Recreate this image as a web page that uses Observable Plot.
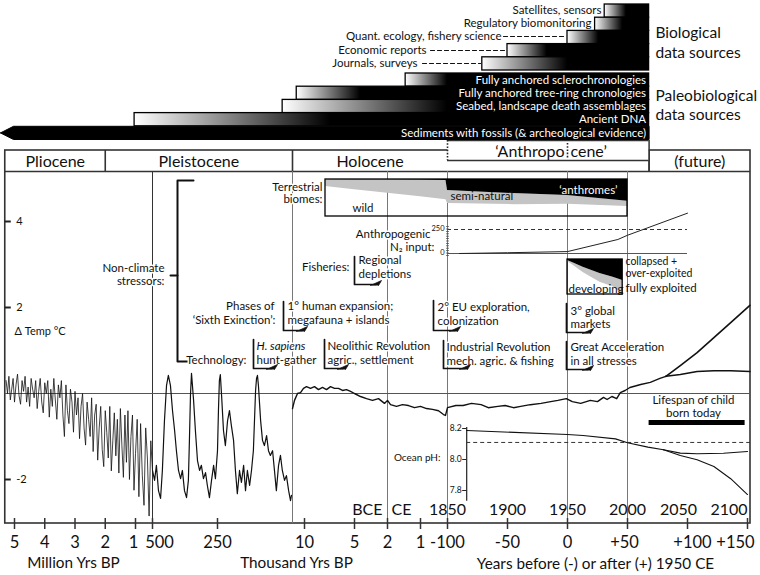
<!DOCTYPE html>
<html><head><meta charset="utf-8">
<script src="https://cdn.jsdelivr.net/npm/d3@7"></script>
<script src="https://cdn.jsdelivr.net/npm/@observablehq/plot@0.6"></script>
<style>
html,body{margin:0;padding:0;background:#fff}
#chart{position:relative;width:760px;height:575px;overflow:hidden;background:#fff}
#chart svg{position:absolute;left:0;top:0}
</style></head><body><div id="chart"></div>
<script>
// ================= DATA =================
// time is expressed in years relative to 1950 CE (negative = before present)
const axisTimes = [-5e6,-4e6,-3e6,-2e6,-1e6,-5e5,-2.5e5,-1e4,-5e3,-2e3,-1e3,-100,-50,0,50,100,150];
const axisLabels = ["5","4","3","2","1","500","250","10","5","2","1","-100","-50","0","+50","+100","+150"];
const axisUnits = ["Million Yrs BP","Thousand Yrs BP","Years before (-) or after (+) 1950 CE"];
const calendarYears = [1850,1900,1950,2000,2050,2100];
const eraLabels = ["BCE","CE"];
const gridTimes = [-5e5,-11700,-2000,-100,0,50];

const epochNames = ["Pliocene","Pleistocene","Holocene","(future)"];
const epochStarts = [-5.33e6,-2e6,-11700,68];
const epochEnds = [-2e6,-11700,68,152.5];
const anthropoceneSpan = [-100,68];
const anthropoceneLabel = ["\u2018Anthropo","cene\u2019"];

const tempTicks = [4,2,-2];
const plioStart = -5.3e6, plioStep = 5e4;
const plioTemp = [0.3,0.0,0.4,-0.15,0.1,0.35,-0.2,0.2,0.45,-0.05, -0.25,0.3,0.05,0.4,-0.2,0.15,-0.3,0.35,0.1,-0.1,
  0.3,-0.35,0.05,0.35,-0.2,-0.45,0.25,0.0,0.3,-0.55, 0.1,-0.3,0.35,-0.15,-0.6,0.2,-0.1,0.3,-0.5,-1.0,
  0.2,-0.4,-0.7,0.1,-0.2,-0.9,0.05,-0.5,-0.1,-1.05, -0.3,0.0,-0.8,-1.2,-0.2,-0.6,-1.0,-0.1,-1.35,-0.5,
  -0.25,-1.55,-0.8,-0.3,-1.3,-1.7,-0.4,-0.9,-1.5,-0.3, -1.8,-1.1,-0.45,-1.45,-0.6,-1.85,-0.35,-1.2,-1.95,-0.5,
  -1.6,-0.4,-2.0,-1.0,-0.5,-2.25,-1.4,-0.6,-2.4,-0.7, -1.9,-2.6,-0.8,-1.5,-2.85,-1.1,-1.8];
const pleistoKa = [500,492,485,477,469,462,454,446,439,431,423,415,408,400,392,385,377,369,362,358,
  354,350,342,335,327,319,312,304,296,289,281,273,265,258,250,247,244,241,237,231,
  225,218,212,206,199,193,187,180,174,167,161,155,148,142,136,129,126,123,120,113,
  107,101,94,88,82,75,69,63,56,50,44,37,31,24,18,15];
const pleistoTemp = [-1.79,-2.02,-1.67,-2.26,-2.44,-1.79,-0.63,0.19,0.42,0.19,-0.40,-0.86,-1.33,-1.79,-1.98,-1.79,-2.26,-2.42,-2.02,-1.09,
  -0.05,0.47,-0.16,-0.86,-1.56,-1.79,-1.67,-1.98,-1.84,-2.14,-2.42,-2.02,-1.67,-1.98,-1.33,-0.40,0.30,0.44,-0.05,-0.86,
  -1.21,-0.63,-0.40,-0.74,-1.09,-1.79,-2.33,-1.79,-2.07,-1.67,-2.26,-1.79,-2.14,-1.79,-1.33,0.07,0.35,0.42,0.19,-0.63,
  -1.09,-1.21,-0.98,-1.33,-1.44,-1.33,-1.79,-2.26,-1.67,-1.44,-1.79,-2.02,-1.91,-2.26,-2.49,-2.37];
const holoT = [-11700,-11417,-10992,-10567,-10142,-9800,-9400,-9000,-8600,-8200,-7800,-7400,-7000,-6600,-6200,-5800,-5400,-5000,-4455,-3909,
  -3364,-2818,-2273,-2000,-1909,-1727,-1545,-1364,-1182,-1000,-800,-600,-400,-233,-167,-100,-93,-87,-80,-72,
  -66,-58,-52,-45,-39,-31,-22,-14,-8,-1,4,11,19,25,30,33,37,41,44,48,52,61,69,77,82];
const holoTemp = [-0.35,-0.16,0.0,0.02,0.12,0.16,0.12,0.16,0.09,0.14,0.09,0.16,0.12,0.12,0.07,0.09,0.05,0.0,-0.07,-0.12,
  -0.16,-0.12,-0.23,-0.16,-0.26,-0.30,-0.26,-0.28,-0.33,-0.30,-0.35,-0.37,-0.40,-0.49,-0.51,-0.33,-0.28,-0.28,-0.23,-0.26,
  -0.33,-0.30,-0.28,-0.33,-0.30,-0.26,-0.23,-0.19,-0.16,-0.12,-0.19,-0.23,-0.16,-0.19,-0.09,-0.14,-0.07,-0.12,0.02,0.07,0.14,0.21,0.26,0.35,0.40];
const futureT = [82,94,108,122,136,152];
const futureHigh = [0.40,0.65,0.95,1.30,1.65,2.05];
const futureLow = [0.40,0.44,0.51,0.53,0.53,0.51];

const bioSources = ["Satellites, sensors","Regulatory biomonitoring","Quant. ecology, fishery science","Economic reports","Journals, surveys"];
const bioStartYear = [1981,1973,1950,1900,1879];
const bioFullYear = [1999,1996,1976,1933,1950];
const presentYear = 2018;
const bioGroupLabel = ["Biological","data sources"];
const paleoSources = ["Fully anchored sclerochronologies","Fully anchored tree-ring chronologies","Seabed, landscape death assemblages","Ancient DNA","Sediments with fossils (& archeological evidence)"];
const paleoStart = [-1450,-11100,-43000,-1.03e6,-5.5e6];
const paleoFull = [-100,-4450,-100,-7400,-5.5e6];
const paleoGroupLabel = ["Paleobiological","data sources"];

const biomeT = [-7900,-5000,-2000,-1000,-150,-100,-45,0,50];
const anthromeShare = [0,0.005,0.01,0.015,0.03,0.30,0.38,0.43,0.59];
const seminaturalShare = [0.19,0.27,0.36,0.45,0.52,0.35,0.30,0.24,0.14];

const n2Year = [1860,1900,1950,1992,2000,2050];
const n2Input = [0,8,20,146,190,420];
const n2Ticks = [0,250];
const n2Ref = 250;

const fishYear = [1950,1955,1963,1977,1988,1996];
const fishCollapsed = [0.03,0.10,0.22,0.40,0.51,0.60];
const fishFully = [0.03,0.07,0.15,0.25,0.27,0.40];

const phYear = [1866,1950,1963,1990,2000,2017,2030];
const phValue = [8.187,8.161,8.155,8.133,8.108,8.08,8.063];
const phHighYear = [2030,2044,2058,2080,2100];
const phHigh = [8.063,8.041,8.037,8.04,8.052];
const phLowYear = [2030,2044,2058,2072,2086,2100];
const phLow = [8.063,8.026,7.998,7.955,7.876,7.774];
const phTicks = [8.2,8.0,7.8];
const phRef = 8.11;

const lifespanYears = [2018,2098];

// ================= LAYOUT =================
const W = 760, H = 575;
const FONT = "Lato, 'Open Sans', sans-serif";
// piecewise time axis (scale configuration)
const timeStops = [-5.5e6,-5e6,-1e6,-5e5,-2.5e5,-11700,-1e4,-5e3,-2e3,-1e3,-100,152.5];
const pxStops   = [0,14,135,152,217,292,304,354,387,420,447,750];
const xScale = {type: "linear", domain: timeStops, range: pxStops, axis: null};
const xs = d3.scaleLinear(timeStops, pxStops);
const shift = (t, dpx) => xs.invert(xs(t) + dpx);
const rel = y => y - 1950;
const frameL = -5.33e6, frameR = 152.5;
const axisLabelDx = [0,0,0,0,-2,7,0,0,0,0,0,0,0,0,-3,5,-12];

const chart = document.getElementById("chart");
function layer(marks, y, x = xScale) {
  const svg = Plot.plot({
    width: W, height: H, marginTop: 0, marginRight: 0, marginBottom: 0, marginLeft: 0,
    x: {...x, axis: null}, y: {...y, axis: null},
    style: {background: "transparent", fontFamily: FONT, overflow: "visible"},
    marks
  });
  chart.appendChild(svg);
  return svg;
}
function addGradients(svg, id, starts, fulls) {
  const defs = d3.select(svg).insert("defs", ":first-child");
  starts.forEach((s, i) => {
    const g = defs.append("linearGradient").attr("id", id + i).attr("gradientUnits", "userSpaceOnUse")
      .attr("x1", xs(s)).attr("x2", xs(fulls[i])).attr("y1", 0).attr("y2", 0);
    g.append("stop").attr("offset", 0).attr("stop-color", "#fff");
    g.append("stop").attr("offset", 1).attr("stop-color", "#000");
  });
}
const txtOpts = {fontFamily: FONT, fill: "#111"};

// ---------- 1. timeline layer: frame, epochs, grid, x axis ----------
const epochData = epochNames.map((name, i) => ({name, start: epochStarts[i], end: epochEnds[i]}));
const epochLabelX = epochData.map(d => {
  const e = d.name === "Holocene" ? anthropoceneSpan[0] : d.end;
  return xs.invert((xs(d.start) + xs(e)) / 2);
});
layer([
  Plot.rect([0], {x1: frameL, x2: frameR, y1: 150, y2: 523, fill: "white", stroke: "#333", strokeWidth: 1.6}),
  Plot.ruleY([171], {x1: frameL, x2: frameR, stroke: "#333", strokeWidth: 1.6}),
  Plot.ruleX(epochStarts.slice(1), {x: d => d, y1: 150, y2: 171, stroke: "#333", strokeWidth: 1.6}),
  Plot.ruleX(gridTimes, {x: d => d, y1: 171, y2: 523, stroke: d => d === -5e5 ? "#333" : "#777", strokeWidth: 1}),
  Plot.ruleX(axisTimes, {x: d => d, y1: 518, y2: 529, stroke: "#333", strokeWidth: 1.5}),
  Plot.text(axisTimes, {x: (d, i) => shift(d, axisLabelDx[i]), y: 542, text: (d, i) => axisLabels[i], fontSize: 16.5, ...txtOpts}),
  Plot.text(epochData, {x: (d, i) => epochLabelX[i], y: 161, text: "name", fontSize: 16, ...txtOpts}),
  // Anthropocene box
  Plot.rect([0], {x1: anthropoceneSpan[0], x2: anthropoceneSpan[1], y1: 140, y2: 160, fill: "white"}),
  Plot.ruleY([140, 160], {x1: anthropoceneSpan[0], x2: anthropoceneSpan[1], y: d => d, stroke: "#333", strokeWidth: 1.5}),
  Plot.ruleX([anthropoceneSpan[1]], {x: d => d, y1: 140, y2: 171, stroke: "#333", strokeWidth: 1.5}),
  Plot.ruleX([anthropoceneSpan[0]], {x: d => d, y1: 140, y2: 160, stroke: "#222", strokeWidth: 1.6, strokeDasharray: "1.6,1.6"}),
  Plot.ruleX([0], {x: d => d, y1: 143, y2: 158, stroke: "#222", strokeWidth: 1.6, strokeDasharray: "1.6,1.6"}),
  Plot.text([anthropoceneLabel[0]], {x: 0, y: 151, dx: -3, text: d => d, textAnchor: "end", fontSize: 16, ...txtOpts}),
  Plot.text([anthropoceneLabel[1]], {x: 0, y: 151, dx: 3, text: d => d, textAnchor: "start", fontSize: 16, ...txtOpts}),
  // calendar years row
  Plot.text(calendarYears.slice(0, 4), {x: d => rel(d), y: 509, text: d => String(d), fontSize: 16, ...txtOpts}),
  Plot.text([calendarYears[4]], {x: d => rel(d), y: 509, dx: -9, text: d => String(d), fontSize: 16, ...txtOpts}),
  Plot.text([calendarYears[5]], {x: d => rel(d), y: 509, text: d => String(d), textAnchor: "end", fontSize: 16, ...txtOpts}),
  // lifespan bar
  Plot.rect([0], {x1: rel(lifespanYears[0]), x2: rel(lifespanYears[1]), y1: 420, y2: 425, fill: "black"})
], {type: "identity"});

// ---------- 2. temperature layer ----------
const plio = plioTemp.map((v, i) => ({t: plioStart + plioStep * i, v}));
const pleisto = pleistoKa.map((k, i) => ({t: -k * 1000, v: pleistoTemp[i]}));
const holo = holoT.map((t, i) => ({t, v: holoTemp[i]}));
const futHi = futureT.map((t, i) => ({t, v: futureHigh[i]}));
const futLo = futureT.map((t, i) => ({t, v: futureLow[i]}));
layer([
  Plot.ruleY([0], {y: d => d, x1: frameL, x2: frameR, stroke: "#555", strokeWidth: 1}),
  Plot.ruleY(tempTicks, {y: d => d, x1: frameL, x2: shift(frameL, 6), stroke: "#222", strokeWidth: 2}),
  Plot.text(tempTicks, {y: d => d, x: shift(frameL, 11), text: d => String(d), textAnchor: "start", fontSize: 11, ...txtOpts}),
  Plot.line(plio, {x: "t", y: "v", stroke: "#111", strokeWidth: 0.8}),
  Plot.line(pleisto, {x: "t", y: "v", stroke: "#111", strokeWidth: 1.2}),
  Plot.line(holo, {x: "t", y: "v", stroke: "#111", strokeWidth: 1.4}),
  Plot.line(futHi, {x: "t", y: "v", stroke: "#111", strokeWidth: 1.6}),
  Plot.line(futLo, {x: "t", y: "v", stroke: "#111", strokeWidth: 1.6})
], {domain: [(393 - 523) / 43, (393 - 171) / 43], range: [523, 171]});

// ---------- 3. data source bars ----------
const bioRows = bioSources.map((name, i) => ({name, i, start: rel(bioStartYear[i])}));
const bioSvg = layer(bioRows.map(d => Plot.rect([d], {x1: "start", x2: rel(presentYear), y1: d.i, y2: d.i + 1,
  fill: `url(#bioG${d.i})`, stroke: "black", strokeWidth: 1.3})), {domain: [0, 5], range: [4, 70]});
addGradients(bioSvg, "bioG", bioStartYear.map(rel), bioFullYear.map(rel));

const paleoRows = paleoSources.map((name, i) => ({name, i, start: paleoStart[i]}));
const sedRow = 4;
const headBase = shift(paleoStart[sedRow], 13);
const arrowShape = [[paleoStart[sedRow], sedRow + 0.5], [headBase, sedRow], [rel(presentYear), sedRow],
  [rel(presentYear), sedRow + 1], [headBase, sedRow + 1], [paleoStart[sedRow], sedRow + 0.5]];
const paleoSvg = layer([
  ...paleoRows.slice(0, 4).map(d => Plot.rect([d], {x1: "start", x2: rel(presentYear), y1: d.i, y2: d.i + 1,
    fill: `url(#paleoG${d.i})`, stroke: "black", strokeWidth: 1.3})),
  Plot.line(arrowShape, {x: d => d[0], y: d => d[1], fill: "black", stroke: "black", strokeWidth: 1}),
  Plot.text(paleoRows, {x: rel(presentYear), y: d => d.i + 0.5, dx: -3, text: "name", textAnchor: "end",
    fontSize: 11.5, fill: "white", fontFamily: FONT})
], {domain: [0, 5], range: [73, 139]});
addGradients(paleoSvg, "paleoG", paleoStart, paleoFull);

// ---------- 4. terrestrial biomes ----------
const biomes = biomeT.map((t, i) => ({t, a: anthromeShare[i], s: seminaturalShare[i]}));
layer([
  Plot.areaY(biomes, {x: "t", y1: d => 1 - d.a - d.s, y2: d => 1 - d.a, fill: "#c4c4c4"}),
  Plot.areaY(biomes, {x: "t", y1: d => 1 - d.a, y2: 1, fill: "black"}),
  Plot.rect([0], {x1: biomeT[0], x2: biomeT[biomeT.length - 1], y1: 0, y2: 1, fill: "none", stroke: "black", strokeWidth: 1.3})
], {domain: [0, 1], range: [216, 179]});

// ---------- 5. fisheries ----------
const fish = fishYear.map((y, i) => ({t: rel(y), c: fishCollapsed[i], f: fishFully[i]}));
layer([
  Plot.areaY(fish, {x: "t", y1: d => 1 - d.c - d.f, y2: d => 1 - d.c, fill: "#c4c4c4"}),
  Plot.areaY(fish, {x: "t", y1: d => 1 - d.c, y2: 1, fill: "black"}),
  Plot.rect([0], {x1: rel(fishYear[0]), x2: rel(fishYear[fishYear.length - 1]), y1: 0, y2: 1, fill: "none", stroke: "black", strokeWidth: 1.3})
], {domain: [0, 1], range: [294, 259]});

// ---------- 6. anthropogenic N2 ----------
const n2 = n2Year.map((y, i) => ({t: rel(y), v: n2Input[i]}));
const n2Axis = rel(1850), n2End = rel(2050);
layer([
  Plot.ruleY([0], {y: d => d, x1: n2Axis, x2: n2End, stroke: "#555", strokeWidth: 1}),
  Plot.ruleY([n2Ref], {y: d => d, x1: n2Axis, x2: n2End, stroke: "#333", strokeWidth: 1, strokeDasharray: "4,3"}),
  Plot.ruleX([n2Axis], {x: d => d, y1: -30, y2: 290, stroke: "#555", strokeWidth: 2.5, strokeDasharray: "1,1.4"}),
  Plot.line(n2, {x: "t", y: "v", stroke: "#222", strokeWidth: 1}),
  Plot.text(n2Ticks, {x: n2Axis, y: d => d, dx: -3, dy: -1, text: d => String(d), textAnchor: "end", fontSize: 7.5, ...txtOpts})
], {domain: [0, 250], range: [253, 229]});

// ---------- 7. ocean pH ----------
const phAxis = rel(phYear[0]);
const ph = phYear.map((y, i) => ({t: rel(y), v: phValue[i]}));
const phH = phHighYear.map((y, i) => ({t: rel(y), v: phHigh[i]}));
const phL = phLowYear.map((y, i) => ({t: rel(y), v: phLow[i]}));
layer([
  Plot.ruleX([phAxis], {x: d => d, y1: 7.73, y2: 8.207, stroke: "#222", strokeWidth: 1.2}),
  Plot.ruleY(phTicks, {y: d => d, x1: shift(phAxis, -4), x2: phAxis, stroke: "#222", strokeWidth: 1}),
  Plot.text(phTicks, {x: phAxis, y: d => d, dx: -5, text: d => d.toFixed(1), textAnchor: "end", fontSize: 8.5, ...txtOpts}),
  Plot.ruleY([phRef], {y: d => d, x1: phAxis, x2: frameR, stroke: "#333", strokeWidth: 1, strokeDasharray: "4,3"}),
  Plot.line(ph, {x: "t", y: "v", stroke: "#111", strokeWidth: 1.1}),
  Plot.line(phH, {x: "t", y: "v", stroke: "#111", strokeWidth: 1.1}),
  Plot.line(phL, {x: "t", y: "v", stroke: "#111", strokeWidth: 1.1})
], {domain: [7.8, 8.2], range: [490, 428]});

// ---------- 8. annotations (layout in pixels) ----------
const halo = {stroke: "white", strokeWidth: 3, paintOrder: "stroke"};
const txt = (rows, anchor, o = {}) => Plot.text(rows, {x: d => d[1], y: d => d[2], text: d => d[0],
  textAnchor: anchor, fontSize: 11.5, ...txtOpts, ...o});
const brackets = [[253,339,368,24],[324,339,368,24],[283,301,330,24],[354,256,284,27],
  [433,300,330,27],[443,340,368,27],[566,303,332,27],[566,341,369,27]];
const bracketMarks = brackets.flatMap(([x, y0, y1, len]) => [
  Plot.line([[x, y0], [x, y1], [x + len - 6, y1]], {x: d => d[0], y: d => d[1], stroke: "#111", strokeWidth: 1.7}),
  Plot.line([[x + len - 11, y1 + 1], [x + len, y1 - 4], [x + len - 3, y1 + 1]], {x: d => d[0], y: d => d[1], fill: "#111", stroke: "#111", strokeWidth: 0.8})
]);
const leaders = [[503,565,36],[430,505,50],[422,480,63]];
layer([
  txt([[bioSources[0],601,10],[bioSources[1],591,23],[bioSources[2],501,36],[bioSources[3],426,50],[bioSources[4],417,63]], "end"),
  ...leaders.map(([a, b, y]) => Plot.line([[a, y], [b, y]], {x: d => d[0], y: d => d[1], stroke: "#111", strokeWidth: 1.2, strokeDasharray: "4,3"})),
  txt([[bioGroupLabel[0],655,33],[bioGroupLabel[1],655,53],[paleoGroupLabel[0],655,96],[paleoGroupLabel[1],655,115]], "start", {fontSize: 15.5}),
  Plot.line([[193,180],[177,180],[177,361],[187,361]], {x: d => d[0], y: d => d[1], stroke: "#111", strokeWidth: 2}),
  Plot.line([[170,275],[177,275]], {x: d => d[0], y: d => d[1], stroke: "#111", strokeWidth: 2}),
  txt([["Non-climate",164,268],["stressors:",164,281],["Terrestrial",322,187],["biomes:",322,199],
    ["Anthropogenic",430,234],["N\u2082 input:",434,247],["Fisheries:",349,267],["Phases of",274,306],
    ["\u2018Sixth Exinction\u2019:",275,320],["Technology:",246,360]], "end", halo),
  txt([["Regional",358,260],["depletions",358,274],["1\u00b0 human expansion;",287,306],["megafauna + islands",287,320],
    ["hunt-gather",256,360],["Neolithic Revolution",327,346],["agric., settlement",327,360],
    ["2\u00b0 EU exploration,",437,307],["colonization",437,321],["Industrial Revolution",446,347],
    ["mech. agric. & fishing",446,361],["3\u00b0 global",570,311],["markets",570,324],
    ["Great Acceleration",570,347],["in all stresses",570,361]], "start", halo),
  txt([["H. sapiens",256,346]], "start", {...halo, fontStyle: "italic"}),
  ...bracketMarks,
  txt([["wild",352,208],["semi-natural",450,196],["developing",568,289],["fully exploited",625,288]], "start"),
  txt([["collapsed +",625,261],["over-exploited",625,273]], "start", {fontSize: 10.5}),
  txt([["\u2018anthromes\u2019",617,190]], "end", {fill: "white"}),
  txt([["\u0394 Temp \u00b0C",14,331]], "start", {fontSize: 11}),
  txt([["Lifespan of child",693,400],["born today",693,413]], "middle"),
  txt([["Ocean pH:",440,457]], "end", {fontSize: 10}),
  txt([[axisUnits[0],73,563],[axisUnits[1],296,563],[axisUnits[2],595,564]], "middle", {fontSize: 15.3}),
  txt([[eraLabels[0],382,509]], "end", {fontSize: 16}),
  txt([[eraLabels[1],391,509]], "start", {fontSize: 16})
], {type: "identity"}, {type: "identity"});
</script></body></html>
